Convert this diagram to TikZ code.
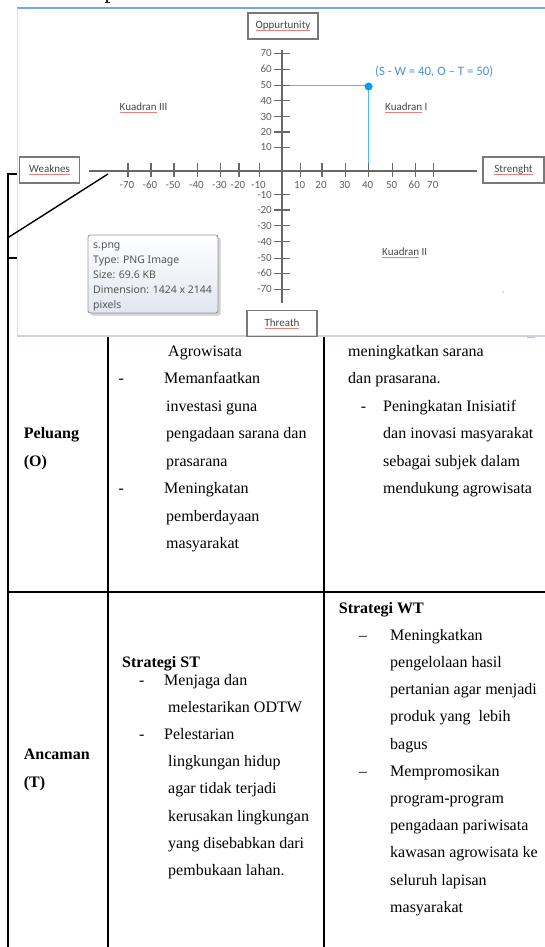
\documentclass[tikz,border=0pt]{standalone}
\usepackage{fontspec}
\setmainfont{Liberation Serif}
\newfontfamily\calfont{Carlito}
\newfontfamily\tipfont{Noto Sans}
\definecolor{axisgray}{RGB}{105,105,105}
\definecolor{boxgray}{RGB}{120,120,120}
\definecolor{txtgray}{RGB}{70,70,70}
\definecolor{ticktxt}{RGB}{95,95,95}
\definecolor{squigred}{RGB}{235,125,125}
\definecolor{ptblue}{RGB}{0,160,235}
\definecolor{lineblue}{RGB}{70,190,240}
\definecolor{lblblue}{RGB}{75,145,215}
\definecolor{frameblue}{RGB}{120,165,225}
\definecolor{framegray}{RGB}{205,210,220}
\definecolor{frameleft}{RGB}{228,224,214}
\definecolor{tipedge}{RGB}{150,150,155}
\definecolor{tipbot}{RGB}{226,230,240}
\definecolor{tiptext}{RGB}{85,85,85}
\definecolor{markorange}{RGB}{240,185,100}
\newcommand\squig[1]{\setbox0\hbox{#1}\rlap{\color{squigred}\rule[-2.3pt]{\wd0}{0.7pt}}\box0\relax}
\begin{document}
\begin{tikzpicture}[x=1pt,y=-1pt,
  chartbox/.style={draw=boxgray, line width=1.3pt, minimum width=#1, minimum height=26pt, inner sep=0pt, font=\calfont\fontsize{11}{13}\selectfont, text=txtgray},
  axis/.style={draw=axisgray, line width=1.2pt},
  ticklbl/.style={font=\calfont\fontsize{11}{13}\selectfont, text=ticktxt, inner sep=0pt},
  quad/.style={font=\calfont\fontsize{11}{13}\selectfont, text=txtgray, inner sep=0pt},
  blueln/.style={draw=lineblue, line width=1.5pt},
  tiptxt/.style={font=\tipfont\fontsize{10.5}{15}\selectfont, text=tiptext, anchor=base west, inner sep=0pt},
  tbl/.style={draw=black, line width=2pt},
  blk/.style={draw=black, line width=1.4pt},
  cell/.style={anchor=base west, inner sep=0pt, font=\fontsize{16}{19}\selectfont},
  hcell/.style={cell, font=\fontsize{16}{19}\selectfont\bfseries}]
\useasboundingbox (0,0) rectangle (545,947);
% foot of a character cut by the top edge
\fill[black!85] (106.3,0) rectangle (107.9,2.4);
\fill[black!85] (104.6,2.1) rectangle (109.8,3);
% screenshot frame
\coordinate (fTL) at (17,8);
\coordinate (fTR) at (545,8);
\coordinate (fBL) at (17,336);
\coordinate (fBR) at (545,336);
\draw[draw=frameblue, line width=1.5pt] (fTL) -- (fTR);
\draw[draw=frameleft, line width=1pt] (fTL) -- (fBL);
\draw[draw=framegray, line width=2pt] (fBL) -- (fBR);
\coordinate (om1) at (527,337.5);
\coordinate (om2) at (535,337.5);
\draw[draw=markorange, line width=1.3pt] (om1) -- (om2);
% axes
\coordinate (yT) at (282,50);
\coordinate (yB) at (282,303);
\coordinate (xL) at (89,171);
\coordinate (xR) at (477,171);
\draw[axis] (yT) -- (yB);
\draw[axis] (xL) -- (xR);
\foreach \v/\yy [count=\i] in {70/53.3,60/69.3,50/85.3,40/100.7,30/116.7,20/132,10/147.3,-10/194.7,-20/210,-30/225.7,-40/241.7,-50/258.3,-60/273.3,-70/289.3}{
  \draw[axis] (273.5,\yy) -- (289.5,\yy);
  \node[ticklbl, anchor=east, name=yl\i] at (272,\yy) {\v};
}
\foreach \v/\xx [count=\i] in {-70/128,-60/151,-50/174,-40/197.5,-30/220.5,-20/239,-10/259.5,10/300.7,20/322,30/345.6,40/368.6,50/392.7,60/415.3,70/433.8}{
  \draw[axis] (\xx,163) -- (\xx,177);
  \node[ticklbl, name=xl\i] at (\xx-1,184.5) {\v};
}
% boxes
\node[chartbox=70pt] (opp) at (283,26) {\squig{Oppurtunity}};
\node[chartbox=60pt] (weak) at (49.5,170) {\squig{Weaknes}};
\node[chartbox=61pt] (str) at (513.5,170) {\squig{Strenght}};
\node[chartbox=70pt] (thr) at (282,323.8) {\squig{Threath}};
% point
\coordinate (bh) at (289.5,85.3);
\coordinate (bv) at (368.6,163);
\draw[blueln] (bh) -| (bv);
\node[circle, fill=ptblue, inner sep=0pt, minimum size=8pt] (pt) at (368.6,86.5) {};
\node[font=\calfont\fontsize{12.8}{15}\selectfont, text=lblblue, anchor=west, inner sep=0pt] (ptl) at (375,72) {(S - W = 40, O – T = 50)};
% quadrant labels
\node[quad, anchor=west] (k3) at (119.5,108) {\squig{Kuadran} III};
\node[quad, anchor=west] (k1) at (385,107.5) {\squig{Kuadran} I};
\node[quad, anchor=west] (k2) at (382,253) {\squig{Kuadran} II};
\node[circle, fill=axisgray, inner sep=0pt, minimum size=1.4pt] (speck) at (503,292) {};
% tooltip
\fill[black!18, rounded corners=2pt] (90.5,237.5) rectangle (220.5,315.5);
\node[draw=tipedge, line width=0.9pt, rounded corners=2.5pt, top color=white, bottom color=tipbot, minimum width=130pt, minimum height=78pt, inner sep=0pt] (tip) at (153,274) {};
\node[tiptxt] (tip1) at (93,248.5) {s.png};
\node[tiptxt] (tip2) at (93,263.5) {Type: PNG Image};
\node[tiptxt] (tip3) at (93,278.5) {Size: 69.6 KB};
\node[tiptxt] (tip4) at (93,293.5) {Dimension: 1424 x 2144};
\node[tiptxt] (tip5) at (93,308.5) {pixels};
% black bracket and pointer
\coordinate (bT) at (8,174);
\coordinate (bTs) at (17,174);
\coordinate (bM) at (8,258);
\coordinate (bMs) at (17,258);
\coordinate (bB) at (8,947);
\coordinate (dA) at (7,238.3);
\coordinate (dB) at (108,174);
\draw[tbl] (bTs) -- (bT) -- (bB);
\draw[tbl] (bM) -- (bMs);
\draw[blk] (dA) -- (dB);
% table grid
\coordinate (c1T) at (108,337);
\coordinate (c1B) at (108,947);
\coordinate (c2T) at (324,337);
\coordinate (c2B) at (324,947);
\coordinate (hL) at (7,592);
\coordinate (hR) at (545,592);
\draw[tbl] (c1T) -- (c1B);
\draw[tbl] (c2T) -- (c2B);
\draw[tbl] (hL) -- (hR);
% Peluang row
\node[hcell] (pel1) at (23.7,438.5) {Peluang};
\node[hcell] (pel2) at (23.7,466) {(O)};
\node[cell] (a1) at (168,356) {Agrowisata};
\node[cell] (a2d) at (118.5,383.5) {-};
\node[cell] (a2) at (164,383.5) {Memanfaatkan};
\node[cell] (a3) at (166,411) {investasi guna};
\node[cell] (a4) at (166,438.5) {pengadaan sarana dan};
\node[cell] (a5) at (166,466) {prasarana};
\node[cell] (a6d) at (118.5,493.5) {-};
\node[cell] (a6) at (164,493.5) {Meningkatan};
\node[cell] (a7) at (166,521) {pemberdayaan};
\node[cell] (a8) at (166,548) {masyarakat};
\node[cell] (b1) at (348,356) {meningkatkan sarana};
\node[cell] (b2) at (348,383.5) {dan prasarana.};
\node[cell] (b3d) at (360.6,411) {-};
\node[cell] (b3) at (383,411) {Peningkatan Inisiatif};
\node[cell] (b4) at (383,438.5) {dan inovasi masyarakat};
\node[cell] (b5) at (383,466) {sebagai subjek dalam};
\node[cell] (b6) at (383,493.5) {mendukung agrowisata};
% Ancaman row
\node[hcell] (anc1) at (23.7,759) {Ancaman};
\node[hcell] (anc2) at (23.7,787) {(T)};
\node[hcell] (st0) at (122,667) {Strategi ST};
\node[cell] (st1d) at (139,685) {-};
\node[cell] (st1) at (164,685) {Menjaga dan};
\node[cell] (st2) at (168,712.2) {melestarikan ODTW};
\node[cell] (st3d) at (139,739.4) {-};
\node[cell] (st3) at (164,739.4) {Pelestarian};
\node[cell] (st4) at (168,766.6) {lingkungan hidup};
\node[cell] (st5) at (168,793.8) {agar tidak terjadi};
\node[cell] (st6) at (168,821) {kerusakan lingkungan};
\node[cell] (st7) at (168,848.2) {yang disebabkan dari};
\node[cell] (st8) at (168,875.4) {pembukaan lahan.};
\node[hcell] (wt0) at (338.7,613) {Strategi WT};
\node[cell] (wt1d) at (359,640.2) {–};
\node[cell] (wt1) at (390,640.2) {Meningkatkan};
\node[cell] (wt2) at (390,667.4) {pengelolaan hasil};
\node[cell] (wt3) at (390,694.6) {pertanian agar menjadi};
\node[cell] (wt4) at (390,721.8) {produk yang\ \ lebih};
\node[cell] (wt5) at (390,749) {bagus};
\node[cell] (wt6d) at (359,776.2) {–};
\node[cell] (wt6) at (390,776.2) {Mempromosikan};
\node[cell] (wt7) at (390,803.4) {program-program};
\node[cell] (wt8) at (390,830.6) {pengadaan pariwisata};
\node[cell] (wt9) at (390,857.8) {kawasan agrowisata ke};
\node[cell] (wt10) at (390,885) {seluruh lapisan};
\node[cell] (wt11) at (390,912.2) {masyarakat};
\end{tikzpicture}
\end{document}
